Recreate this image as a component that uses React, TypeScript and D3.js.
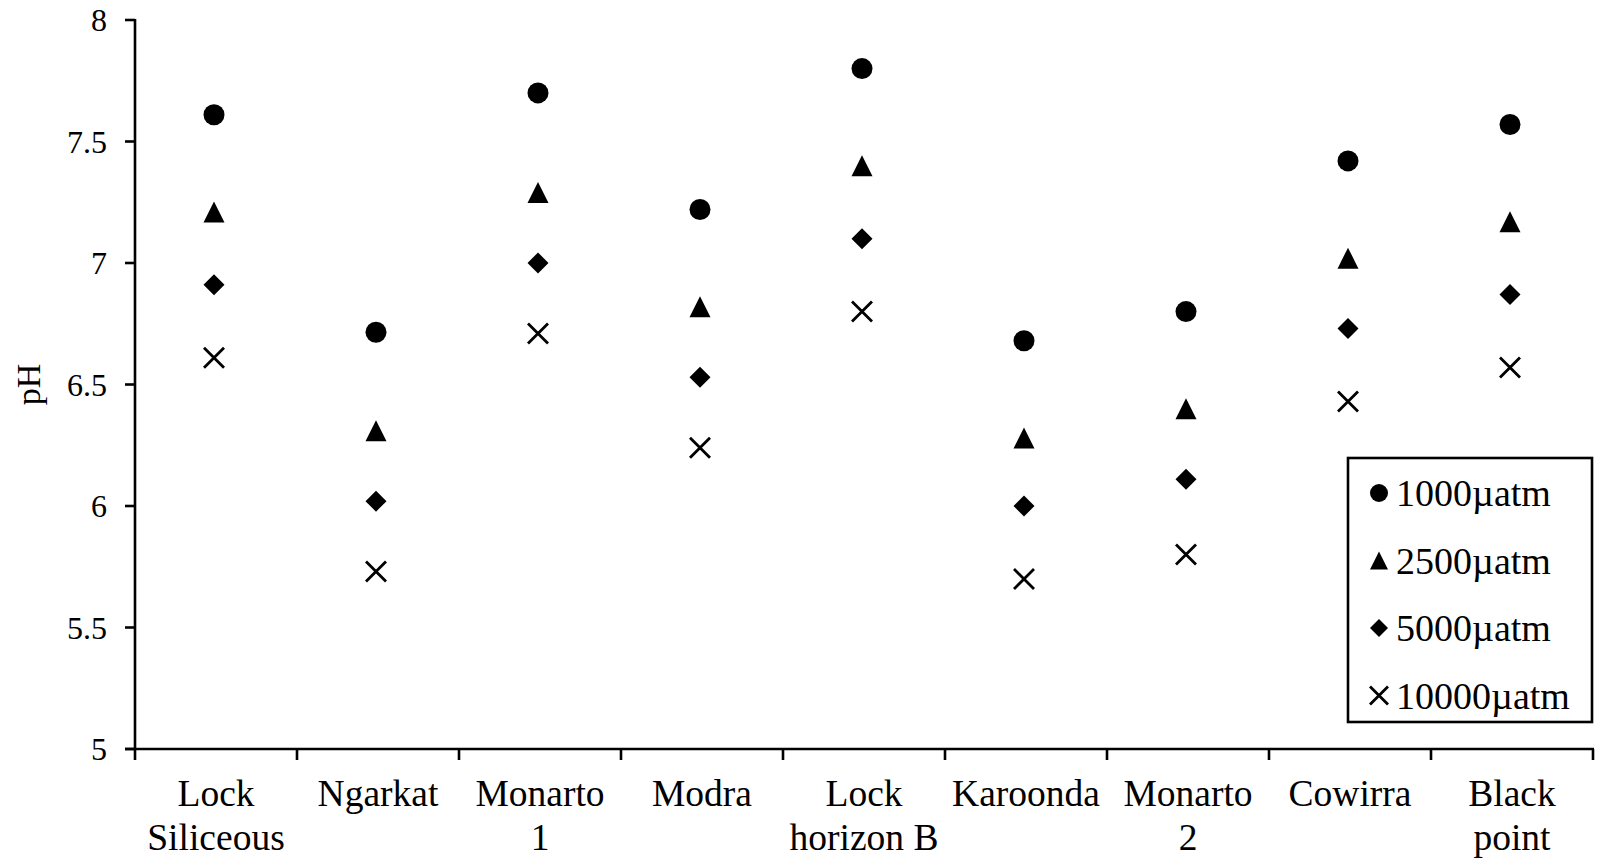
import React from "react";
import * as d3 from "d3";

const categories = [
  ["Lock", "Siliceous"],
  ["Ngarkat"],
  ["Monarto", "1"],
  ["Modra"],
  ["Lock", "horizon B"],
  ["Karoonda"],
  ["Monarto", "2"],
  ["Cowirra"],
  ["Black", "point"],
];
const series1000 = [7.61, 6.715, 7.7, 7.22, 7.8, 6.68, 6.8, 7.42, 7.57];
const series2500 = [7.21, 6.31, 7.29, 6.82, 7.4, 6.28, 6.4, 7.02, 7.17];
const series5000 = [6.91, 6.02, 7.0, 6.53, 7.1, 6.0, 6.11, 6.73, 6.87];
const series10000 = [6.61, 5.73, 6.71, 6.24, 6.8, 5.7, 5.8, 6.43, 6.57];
const seriesNames = ["1000µatm", "2500µatm", "5000µatm", "10000µatm"];
const yTicks = [5, 5.5, 6, 6.5, 7, 7.5, 8];

const W = 1598;
const H = 862;
const left = 135;
const right = 1593;
const top = 20;
const bottom = 749;
const FONT = "'Liberation Serif', 'Times New Roman', serif";

function Marker({ kind, x, y, s }: { kind: number; x: number; y: number; s: number }) {
  const h = s / 2;
  if (kind === 0) return <circle cx={x} cy={y} r={h} fill="#000" />;
  if (kind === 1)
    return <path d={`M${x},${y - h}L${x + h},${y + h}L${x - h},${y + h}Z`} fill="#000" />;
  if (kind === 2)
    return <path d={`M${x},${y - h}L${x + h},${y}L${x},${y + h}L${x - h},${y}Z`} fill="#000" />;
  return (
    <path
      d={`M${x - h},${y - h}L${x + h},${y + h}M${x - h},${y + h}L${x + h},${y - h}`}
      stroke="#000"
      strokeWidth={2.8}
      fill="none"
    />
  );
}

export default function App() {
  const x = d3
    .scaleBand<number>()
    .domain(d3.range(categories.length))
    .range([left, right])
    .padding(0);
  const y = d3.scaleLinear().domain([5, 8]).range([bottom, top]);
  const allSeries = [series1000, series2500, series5000, series10000];
  const bw = x.bandwidth();

  return (
    <div style={{ position: "fixed", left: 0, top: 0 }}>
      <svg width={W} height={H} style={{ display: "block", background: "#fff" }}>
        {/* y axis */}
        <line x1={left} x2={left} y1={top - 1} y2={bottom} stroke="#000" strokeWidth={2.6} />
        {yTicks.map((t) => (
          <g key={t}>
            <line x1={left - 10} x2={left} y1={y(t)} y2={y(t)} stroke="#000" strokeWidth={2.6} />
            <text
              x={107}
              y={y(t)}
              textAnchor="end"
              dominantBaseline="central"
              fontFamily={FONT}
              fontSize={32}
            >
              {t}
            </text>
          </g>
        ))}
        {/* x axis */}
        <line x1={left - 10} x2={right + 1} y1={bottom} y2={bottom} stroke="#000" strokeWidth={2.6} />
        {d3.range(categories.length + 1).map((i) => {
          const xp = left + i * bw;
          return <line key={i} x1={xp} x2={xp} y1={bottom} y2={bottom + 11} stroke="#000" strokeWidth={2.6} />;
        })}
        {categories.map((lines, i) => (
          <text
            key={i}
            x={(x(i) as number) + bw / 2}
            y={806}
            textAnchor="middle"
            fontFamily={FONT}
            fontSize={37.5}
          >
            {lines.map((l, j) => (
              <tspan key={j} x={(x(i) as number) + bw / 2} dy={j === 0 ? 0 : 44}>
                {l}
              </tspan>
            ))}
          </text>
        ))}
        {/* y label */}
        <text
          transform={`translate(40,${(top + bottom) / 2}) rotate(-90)`}
          textAnchor="middle"
          fontFamily={FONT}
          fontSize={34}
        >
          pH
        </text>
        {/* points */}
        {allSeries.map((s, k) =>
          s.map((v, i) => (
            <Marker key={`${k}-${i}`} kind={k} x={(x(i) as number) + bw / 2 - 2} y={y(v)} s={k === 3 ? 20 : 21} />
          ))
        )}
        {/* legend */}
        <rect x={1348} y={458} width={244} height={264} fill="#fff" stroke="#000" strokeWidth={2.6} />
        {seriesNames.map((n, k) => {
          const ly = 493 + k * 67.5;
          return (
            <g key={n}>
              <Marker kind={k} x={1379} y={ly} s={k === 3 ? 18 : 18} />
              <text x={1396} y={ly} dominantBaseline="central" fontFamily={FONT} fontSize={38}>
                {n}
              </text>
            </g>
          );
        })}
      </svg>
    </div>
  );
}
